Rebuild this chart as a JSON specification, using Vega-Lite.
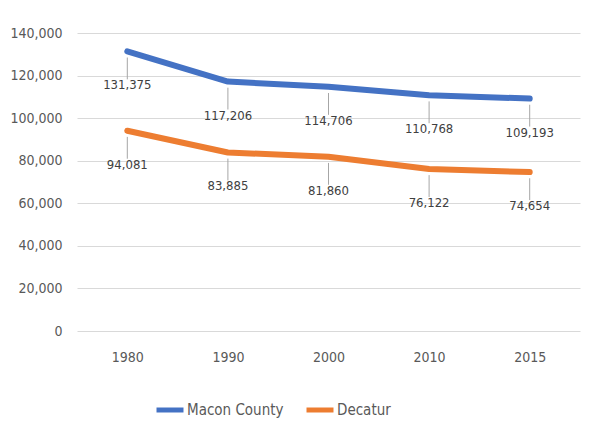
{
  "$schema": "https://vega.github.io/schema/vega-lite/v6.json",
  "width": 503,
  "height": 298,
  "autosize": "none",
  "padding": {"left": 77, "top": 33, "right": 9, "bottom": 97},
  "background": "white",
  "config": {
    "view": {"stroke": null},
    "font": "Liberation Sans Narrow, DejaVu Sans Condensed, Liberation Sans"
  },
  "data": {
    "values": [
      {"year": "1980", "series": "Macon County", "pop": 131375},
      {"year": "1990", "series": "Macon County", "pop": 117206},
      {"year": "2000", "series": "Macon County", "pop": 114706},
      {"year": "2010", "series": "Macon County", "pop": 110768},
      {"year": "2015", "series": "Macon County", "pop": 109193},
      {"year": "1980", "series": "Decatur", "pop": 94081},
      {"year": "1990", "series": "Decatur", "pop": 83885},
      {"year": "2000", "series": "Decatur", "pop": 81860},
      {"year": "2010", "series": "Decatur", "pop": 76122},
      {"year": "2015", "series": "Decatur", "pop": 74654}
    ]
  },
  "encoding": {
    "x": {
      "field": "year", "type": "ordinal", "title": null,
      "scale": {"type": "point", "padding": 0.5},
      "axis": {"domain": false, "ticks": false, "labelAngle": 0, "labelFontSize": 14, "labelColor": "#595959", "labelPadding": 19, "labelFont": "Liberation Sans Narrow, DejaVu Sans Condensed, Liberation Sans"}
    },
    "y": {
      "field": "pop", "type": "quantitative", "title": null,
      "scale": {"domain": [0, 140000], "nice": false},
      "axis": {"values": [0, 20000, 40000, 60000, 80000, 100000, 120000, 140000], "format": ",.0f", "domain": false, "ticks": false, "labelFontSize": 14, "labelColor": "#595959", "labelPadding": 15, "gridColor": "#d9d9d9", "gridWidth": 1, "labelFont": "Liberation Sans Narrow, DejaVu Sans Condensed, Liberation Sans"}
    }
  },
  "layer": [
    {
      "mark": {"type": "line", "strokeWidth": 6, "strokeJoin": "round", "strokeCap": "round"},
      "encoding": {
        "color": {
          "field": "series", "type": "nominal",
          "scale": {"domain": ["Macon County", "Decatur"], "range": ["#4472C4", "#ED7D31"]},
          "legend": {"title": null, "orient": "none", "direction": "horizontal", "legendX": 77, "legendY": 361, "symbolType": "stroke", "symbolStrokeWidth": 5, "symbolSize": 729, "labelFontSize": 15, "labelColor": "#595959", "labelFont": "Liberation Sans Narrow, DejaVu Sans Condensed, Liberation Sans", "labelOffset": 1, "columnPadding": 12}
        }
      }
    },
    {
      "mark": {"type": "point", "shape": "M0,0.22L0,1", "size": 3136, "filled": false, "stroke": "#a6a6a6", "strokeWidth": 1, "opacity": 1}
    },
    {
      "mark": {"type": "text", "dy": 34, "fontSize": 13, "color": "#404040", "baseline": "middle", "font": "Liberation Sans Narrow, DejaVu Sans Condensed, Liberation Sans"},
      "encoding": {"text": {"field": "pop", "type": "quantitative", "format": ",.0f"}}
    }
  ]
}
